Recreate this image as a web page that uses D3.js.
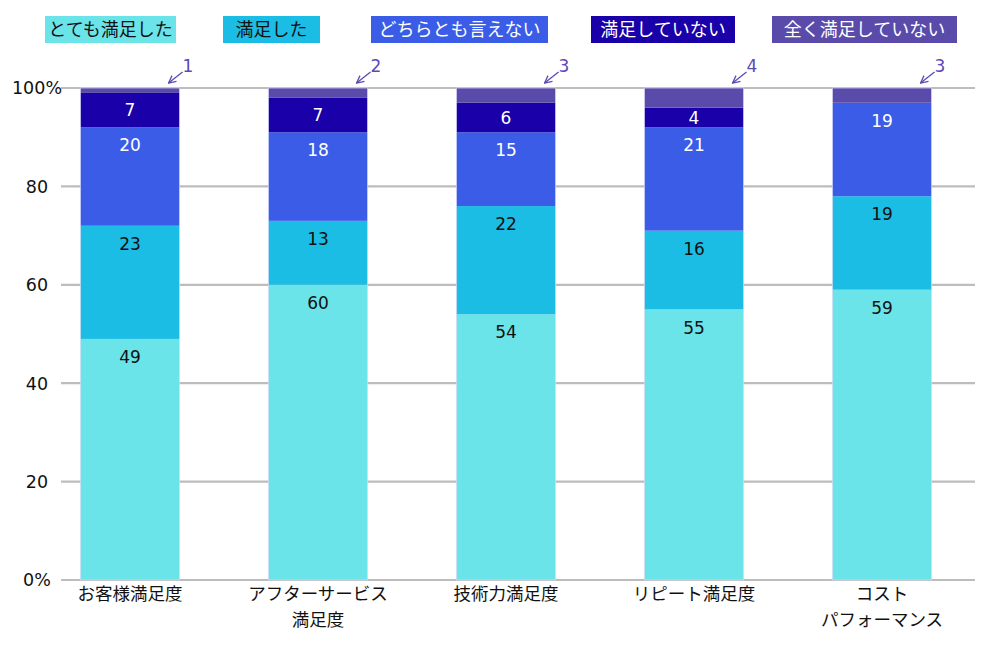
<!DOCTYPE html>
<html lang="ja">
<head>
<meta charset="UTF-8">
<title>満足度調査</title>
<script src="https://d3js.org/d3.v7.min.js"></script>
<style>
    body {
        margin: 0;
        background: #ffffff;
        font-family: 'DejaVu Sans', 'Noto Sans CJK JP', sans-serif;
    }
    svg text {
        font-family: 'DejaVu Sans', 'Noto Sans CJK JP', sans-serif;
    }
    .cat text, .legend text {
        font-family: 'Noto Sans CJK JP', sans-serif;
    }
</style>
</head>
<body>
<svg id="chart" width="1000" height="650"></svg>
<script>
// categories (multi-line labels)
const categories = [
    ["お客様満足度"],
    ["アフターサービス", "満足度"],
    ["技術力満足度"],
    ["リピート満足度"],
    ["コスト", "パフォーマンス"]
];

const seriesNames = ["とても満足した", "満足した", "どちらとも言えない", "満足していない", "全く満足していない"];

const verySatisfied = [49, 60, 54, 55, 59];
const satisfied = [23, 13, 22, 16, 19];
const neutral = [20, 18, 15, 21, 19];
const unsatisfied = [7, 7, 6, 4, 0];
const veryUnsatisfied = [1, 2, 3, 4, 3];

const yTicks = [0, 20, 40, 60, 80, 100];

const colors = ["#6ae4e8", "#1bbde5", "#3b5ce6", "#1a00a8", "#5a4baa"];
const labelColors = ["#111", "#111", "#fff", "#fff", "#fff"];

const seriesValues = [verySatisfied, satisfied, neutral, unsatisfied, veryUnsatisfied];

const svg = d3.select("#chart");

const x = d3.scaleBand()
    .domain(d3.range(categories.length))
    .range([36, 976])
    .paddingInner(0.473)
    .paddingOuter(0.2365);

const y = d3.scaleLinear()
    .domain([0, 100])
    .range([580, 88]);

// gridlines
svg.append("g")
    .selectAll("line")
    .data(yTicks)
    .join("line")
    .attr("x1", 61)
    .attr("x2", 975)
    .attr("y1", d => y(d))
    .attr("y2", d => y(d))
    .attr("stroke", "#bdbdbd")
    .attr("stroke-width", 2.2);

// y labels
svg.append("g")
    .selectAll("text")
    .data(yTicks)
    .join("text")
    .attr("x", 37)
    .attr("y", d => y(d))
    .attr("dy", "0.36em")
    .attr("text-anchor", "middle")
    .attr("font-size", 17.5)
    .attr("fill", "#111")
    .text(d => (d === 0 || d === 100) ? d + "%" : d);

// stacked data
const table = categories.map((c, i) => {
    const row = { i };
    seriesNames.forEach((s, k) => row[s] = seriesValues[k][i]);
    return row;
});
const stacked = d3.stack().keys(seriesNames)(table);

const layers = svg.append("g")
    .selectAll("g")
    .data(stacked)
    .join("g")
    .attr("fill", (d, k) => colors[k]);

layers.selectAll("rect")
    .data(d => d)
    .join("rect")
    .attr("x", d => x(d.data.i))
    .attr("width", x.bandwidth())
    .attr("y", d => y(d[1]))
    .attr("height", d => y(d[0]) - y(d[1]));

// faint bar outlines
svg.append("g")
    .selectAll("rect")
    .data(categories)
    .join("rect")
    .attr("x", (d, i) => x(i))
    .attr("width", x.bandwidth())
    .attr("y", y(100))
    .attr("height", y(0) - y(100))
    .attr("fill", "none")
    .attr("stroke", "#d4daf6")
    .attr("stroke-opacity", 0.7)
    .attr("stroke-width", 1);

// value labels (first four series, inside end)
stacked.slice(0, 4).forEach((layer, k) => {
    svg.append("g")
        .selectAll("text")
        .data(layer.filter(d => d[1] - d[0] > 0))
        .join("text")
        .attr("x", d => x(d.data.i) + x.bandwidth() / 2)
        .attr("y", d => {
            const top = y(d[1]), bottom = y(d[0]);
            return Math.min(top + 18, (top + bottom) / 2);
        })
        .attr("dy", "0.36em")
        .attr("text-anchor", "middle")
        .attr("font-size", 17)
        .attr("fill", labelColors[k])
        .text(d => d[1] - d[0]);
});

// callouts for the last series
const callColor = "#5a4ab5";
svg.append("defs").append("marker")
    .attr("id", "arr")
    .attr("viewBox", "0 0 10 10")
    .attr("refX", 9).attr("refY", 5)
    .attr("markerWidth", 7).attr("markerHeight", 7)
    .attr("orient", "auto")
    .append("path")
    .attr("d", "M1,1 L9,5 L1,9")
    .attr("fill", "none")
    .attr("stroke", callColor)
    .attr("stroke-width", 1.4);

const call = svg.append("g")
    .selectAll("g")
    .data(stacked[4])
    .join("g")
    .attr("transform", d => `translate(${x(d.data.i) + x.bandwidth()},${y(d[1])})`);

call.append("line")
    .attr("x1", 3).attr("y1", -16)
    .attr("x2", -11).attr("y2", -5)
    .attr("stroke", callColor)
    .attr("stroke-width", 1.3)
    .attr("marker-end", "url(#arr)");

call.append("text")
    .attr("x", 3)
    .attr("y", -16)
    .attr("font-size", 17)
    .attr("fill", callColor)
    .text(d => d[1] - d[0]);

// category labels
const cat = svg.append("g").attr("class", "cat")
    .selectAll("text")
    .data(categories)
    .join("text")
    .attr("text-anchor", "middle")
    .attr("font-size", 17.5)
    .attr("fill", "#111");

cat.selectAll("tspan")
    .data((d, i) => d.map(line => ({ line, i })))
    .join("tspan")
    .attr("x", d => x(d.i) + x.bandwidth() / 2)
    .attr("y", (d, j) => 600 + j * 25.5)
    .text(d => d.line);

// legend
const legendX = [45, 223, 371, 591, 772];
const legendW = [131, 97, 177, 144, 185];
const lg = svg.append("g").attr("class", "legend")
    .selectAll("g")
    .data(seriesNames)
    .join("g")
    .attr("transform", (d, k) => `translate(${legendX[k]},16)`);

lg.append("rect")
    .attr("width", (d, k) => legendW[k])
    .attr("height", 27)
    .attr("fill", (d, k) => colors[k]);

lg.append("text")
    .attr("x", (d, k) => legendW[k] / 2)
    .attr("y", 14)
    .attr("dy", "0.36em")
    .attr("text-anchor", "middle")
    .attr("font-size", 18)
    .attr("fill", (d, k) => labelColors[k])
    .text(d => d);
</script>
</body>
</html>
